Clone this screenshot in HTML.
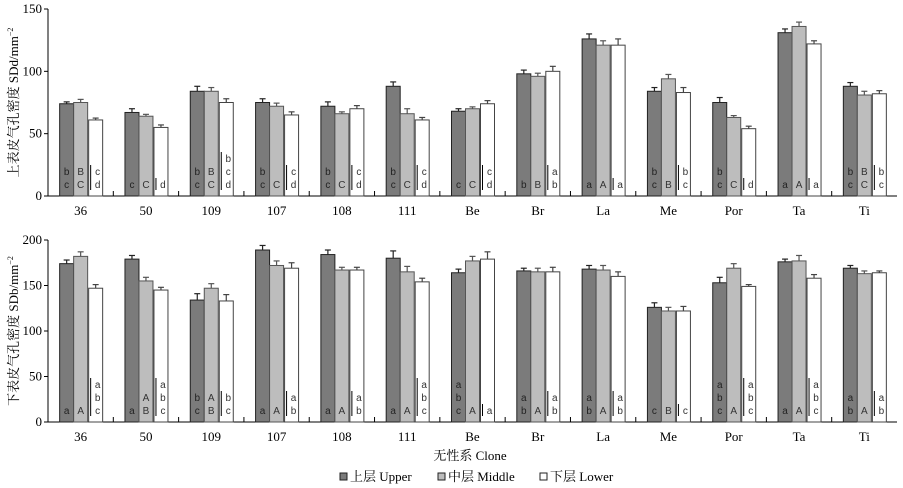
<!DOCTYPE html>
<html><head><meta charset="utf-8">
<style>
body{margin:0;background:#fff;}
svg{display:block;font-family:"Liberation Serif","Noto Serif CJK SC",serif;}
</style></head>
<body>
<svg id="chart" width="903" height="488" viewBox="0 0 903 488" xmlns="http://www.w3.org/2000/svg"></svg>
<script>
const categories=["36","50","109","107","108","111","Be","Br","La","Me","Por","Ta","Ti"];
const seriesNames=["上层 Upper","中层 Middle","下层 Lower"];
const topUpper=[74,67,84,75,72,88,68,98,126,84,75,131,88];
const topMiddle=[75,64,84,72,66,66,70,96,121,94,63,136,81];
const topLower=[61,55,75,65,70,61,74,100,121,83,54,122,82];
const topUpperErr=[1.5,3,4,3,3.5,3.5,2,3,4,3,4,3,3];
const topMiddleErr=[2.5,1.5,3,2.5,1.5,4,1.5,2.5,3.5,3.5,1.5,3.5,3];
const topLowerErr=[1.5,2,3,2.5,2.5,2,2.5,4,5,4,2,2.5,2.5];
const botUpper=[174,179,134,189,184,180,164,166,168,126,153,176,169];
const botMiddle=[182,155,147,172,167,165,177,165,167,122,169,177,163];
const botLower=[147,145,133,169,167,154,179,165,160,122,149,158,164];
const botUpperErr=[4,4,7,5,5,8,4,3,4,5,6,3,3];
const botMiddleErr=[5,4,5,5,3,6,5,4,5,4,5,6,3];
const botLowerErr=[4,3,7,6,3,4,8,5,5,5,2,4,2];
const topLetters=[["b c","B C","c d"],["c","C","d"],["b c","B C","b c d"],["b c","C","c d"],["b c","C","c d"],["b c","C","c d"],["c","C","c d"],["b","B","a b"],["a","A","a"],["b c","B","b c"],["b c","C","d"],["a","A","a"],["b c","B C","b c"]];
const botLetters=[["a","A","a b c"],["a","A B","a b c"],["b c","A B","b c"],["a","A","a b"],["a","A","a b"],["a","A","a b c"],["a b c","A","a"],["a b","A","a b"],["a b","A","a b"],["c","B","c"],["a b c","A","a b c"],["a","A","a b c"],["a b","A","a b"]];
const topTicks=[0,50,100,150];
const botTicks=[0,50,100,150,200];

const svg=document.getElementById('chart');
const NS="http://www.w3.org/2000/svg";
function mk(tag,attrs,parent){const e=document.createElementNS(NS,tag);for(const k in attrs)e.setAttribute(k,attrs[k]);(parent||svg).appendChild(e);return e;}
const x0=48,x1=897,gw=(x1-x0)/categories.length,bw=14;
const fills=["#7b7b7b","#bdbdbd","#ffffff"];
const strokes=["#222","#555","#444"];
function panel(name,yTop,yBot,maxV,ticks,vals,errs,letters,title){
  const g=mk('g',{});
  
  
  const y=v=>yBot-(v/maxV)*(yBot-yTop);
  const ax=mk('line',{x1:x0,y1:yTop,x2:x0,y2:yBot,stroke:'#000','stroke-width':1},g);
  
  
  const bx=mk('line',{x1:x0,y1:yBot,x2:x1,y2:yBot,stroke:'#000','stroke-width':1},g);
  
  
  ticks.forEach(t=>{
    mk('line',{x1:x0-4,y1:y(t),x2:x0,y2:y(t),stroke:'#000'},g);
    const tl=mk('text',{x:x0-6,y:y(t)+4,'text-anchor':'end','font-size':13},g);
    tl.textContent=t;
    
    
  });
  for(let i=1;i<categories.length;i++){mk('line',{x1:x0+i*gw,y1:yBot,x2:x0+i*gw,y2:yBot-5,stroke:'#000'},g);}
  categories.forEach((c,i)=>{
    const cx=x0+(i+0.5)*gw;
    const cl=mk('text',{x:cx,y:yBot+19,'text-anchor':'middle','font-size':13},g);
    cl.textContent=c;
    
    
    for(let s=0;s<3;s++){
      const v=vals[s][i],e=errs[s][i];
      const bxp=cx-21+s*bw+(s==2?1:0);
      const ex=bxp+bw/2;
      mk('line',{x1:ex,y1:y(v),x2:ex,y2:y(v+e),stroke:strokes[s],'stroke-width':1.2},g);
      mk('line',{x1:ex-3,y1:y(v+e),x2:ex+3,y2:y(v+e),stroke:strokes[s],'stroke-width':1.2},g);
      const r=mk('rect',{x:bxp,y:y(v),width:bw,height:yBot-y(v),fill:fills[s],stroke:strokes[s],'stroke-width':1},g);
      
      
      const lines=letters[i][s].split(' ');
      const n=lines.length;
      lines.forEach((L,k)=>{
        const ty=yBot-8-(n-1-k)*13;
        const t=mk('text',{x:ex+(s==2?2:0),y:ty,'text-anchor':'middle','font-size':10,'font-family':'Liberation Sans, sans-serif',fill:s==0?'#222':'#333'},g);
        t.textContent=L;
        
        
      });
      if(s==2){mk('line',{x1:bxp+2,y1:yBot-8-(n-1)*13-10,x2:bxp+2,y2:yBot-6,stroke:'#000','stroke-width':1},g);}
    }
  });
  const tt=mk('text',{x:0,y:0,'text-anchor':'middle','font-size':13,transform:`translate(18,${(yTop+yBot)/2}) rotate(-90)`},g);
  tt.innerHTML=title;
  
  
}
panel('top-panel',9,196,150,topTicks,[topUpper,topMiddle,topLower],[topUpperErr,topMiddleErr,topLowerErr],topLetters,'上表皮气孔密度 SDd/mm<tspan dy="-5" font-size="8">−2</tspan>');
panel('bottom-panel',240,422,200,botTicks,[botUpper,botMiddle,botLower],[botUpperErr,botMiddleErr,botLowerErr],botLetters,'下表皮气孔密度 SDb/mm<tspan dy="-5" font-size="8">−2</tspan>');
const xt=mk('text',{x:470,y:460,'text-anchor':'middle','font-size':13});
xt.textContent='无性系 Clone';


const lx=[340,438,540];
seriesNames.forEach((n,s)=>{
  const r=mk('rect',{x:lx[s],y:473,width:7,height:7,fill:fills[s],stroke:'#222'});
  
  
  const t=mk('text',{x:lx[s]+10,y:481,'font-size':13});
  t.textContent=n;
  
  
});
</script>
</body></html>
